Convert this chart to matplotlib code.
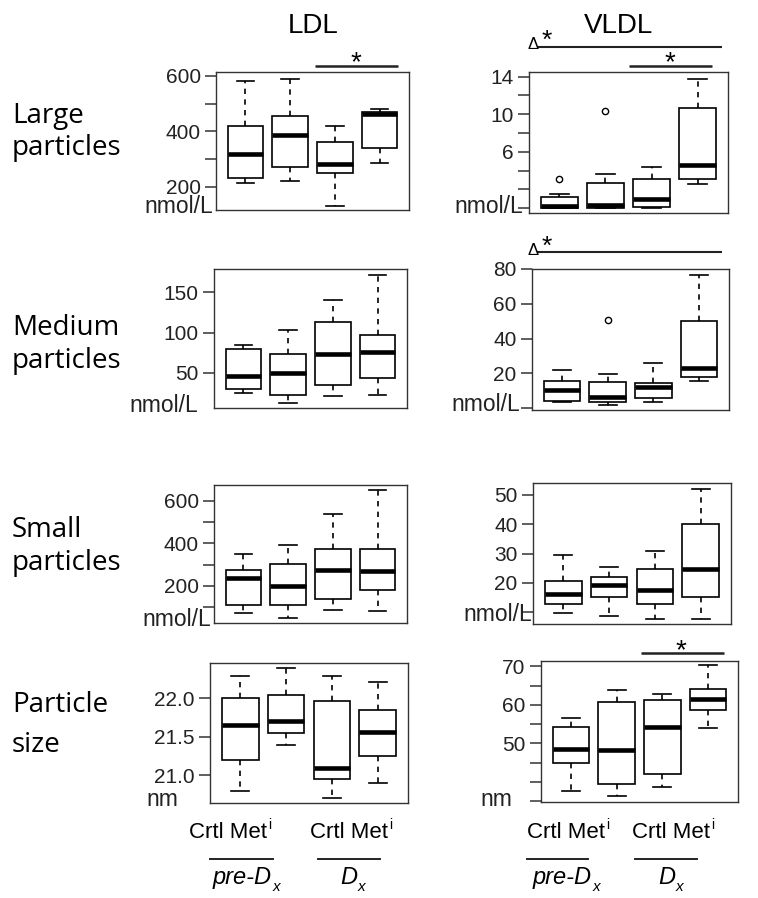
import matplotlib
matplotlib.use("Agg")
import matplotlib.pyplot as plt

# ── CANVAS ────────────────────────────────────────────────────────────────────
W, H = 758, 898
TICK_FONT = "Liberation Sans"
LABEL_FONT = "Open Sans"

# ── DATA: (whisker low, Q1, median, Q3, whisker high) per group ───────────────
# groups: Crtl pre-Dx, Met pre-Dx, Crtl Dx, Met Dx
ldl_large = [(213, 232, 319, 420, 583), (222, 273, 387, 456, 590),
             (132, 249, 283, 361, 420), (285, 340, 462, 469, 481)]
ldl_large_out = [[], [], [], []]
vldl_large = [(0.0, 0.05, 0.25, 1.2, 1.5), (0.0, 0.05, 0.3, 2.7, 3.6),
              (0.0, 0.1, 1.0, 3.1, 4.4), (2.6, 3.1, 4.6, 10.7, 13.8)]
vldl_large_out = [[3.1], [10.4], [], []]

ldl_medium = [(25, 30, 46, 80, 85), (13, 23, 50, 74, 103),
              (21, 35, 73, 113, 140), (23, 44, 76, 97, 172)]
ldl_medium_out = [[], [], [], []]
vldl_medium = [(3.4, 4.0, 10.5, 15.8, 21.9), (2.0, 3.4, 6.6, 15.2, 19.6),
               (3.8, 5.7, 12.0, 14.3, 26.0), (15.8, 18.0, 23.4, 49.9, 76.7)]
vldl_medium_out = [[], [50.5], [], []]

ldl_small = [(75, 112, 235, 277, 352), (51, 109, 200, 304, 392),
             (86, 139, 274, 373, 536), (82, 180, 271, 373, 650)]
ldl_small_out = [[], [], [], []]
vldl_small = [(9.7, 12.9, 16.3, 20.7, 29.6), (8.9, 15.2, 19.2, 22.0, 25.4),
              (7.8, 12.9, 17.5, 24.8, 30.8), (7.8, 15.3, 24.8, 40.0, 52.0)]
vldl_small_out = [[], [], [], []]

ldl_size = [(20.8, 21.2, 21.65, 22.0, 22.29), (21.4, 21.55, 21.71, 22.04, 22.4),
            (20.7, 20.95, 21.1, 21.96, 22.29), (20.9, 21.25, 21.56, 21.85, 22.21)]
ldl_size_out = [[], [], [], []]
vldl_size = [(37.6, 44.8, 48.5, 54.3, 56.5), (36.3, 39.4, 48.2, 60.8, 64.0),
             (38.7, 42.0, 54.3, 61.2, 62.9), (53.9, 58.8, 61.5, 64.2, 70.3)]
vldl_size_out = [[], [], [], []]

# ── AXIS TICKS ────────────────────────────────────────────────────────────────
ldl_large_ticks = [200, 300, 400, 500, 600]
ldl_large_labels = ["200", "", "400", "", "600"]
vldl_large_ticks = [0, 2, 4, 6, 8, 10, 12, 14]
vldl_large_labels = ["", "", "", "6", "", "10", "", "14"]
ldl_medium_ticks = [50, 100, 150]
ldl_medium_labels = ["50", "100", "150"]
vldl_medium_ticks = [0, 20, 40, 60, 80]
vldl_medium_labels = ["", "20", "40", "60", "80"]
ldl_small_ticks = [100, 200, 300, 400, 500, 600]
ldl_small_labels = ["", "200", "", "400", "", "600"]
vldl_small_ticks = [10, 20, 30, 40, 50]
vldl_small_labels = ["", "20", "30", "40", "50"]
ldl_size_ticks = [21.0, 21.5, 22.0]
ldl_size_labels = ["21.0", "21.5", "22.0"]
vldl_size_ticks = [35, 40, 45, 50, 55, 60, 65, 70]
vldl_size_labels = ["", "", "", "50", "", "60", "", "70"]

row_titles = [("Large", "particles"), ("Medium", "particles"),
              ("Small", "particles"), ("Particle", "size")]
col_titles = ["LDL", "VLDL"]
group_top = ["Crtl Met", "Crtl Met", "Crtl Met", "Crtl Met"]
group_bottom = ["pre-D", "D", "pre-D", "D"]


def px_rect(left, top, right, bottom):
    """Pixel box -> figure fraction rect."""
    return [left / W, 1 - bottom / H, (right - left) / W, (bottom - top) / H]


def draw_panel(fig, rect, stats, outliers, ylim, ticks, labels):
    ax = fig.add_axes(px_rect(*rect))
    bx = []
    for (lo, q1, med, q3, hi), fl in zip(stats, outliers):
        bx.append(dict(whislo=lo, q1=q1, med=med, q3=q3, whishi=hi, fliers=fl))
    ax.bxp(bx, positions=[1, 2, 3, 4], widths=0.8, capwidths=0.4,
           patch_artist=True, showfliers=True,
           boxprops=dict(facecolor="white", edgecolor="black", linewidth=1.2),
           medianprops=dict(color="black", linewidth=3.3, solid_capstyle="butt"),
           whiskerprops=dict(color="black", linewidth=1.2, linestyle=(0, (3.2, 3.2))),
           capprops=dict(color="black", linewidth=1.2),
           flierprops=dict(marker="o", markersize=4.5, markerfacecolor="white",
                           markeredgecolor="black", markeredgewidth=1.0))
    ax.set_xlim(0.34, 4.66)
    ax.set_ylim(*ylim)
    ax.set_xticks([])
    ax.set_yticks(ticks)
    ax.set_yticklabels(labels, fontsize=15, family=TICK_FONT, color="#222222")
    ax.tick_params(axis="y", length=8, width=1.1, pad=3, color="#333333")
    for sp in ax.spines.values():
        sp.set_linewidth(1.0)
        sp.set_color("#333333")
    return ax


fig = plt.figure(figsize=(W / 100, H / 100), dpi=100)

panels = [
    ((216, 72, 409, 210), ldl_large, ldl_large_out, (117, 614), ldl_large_ticks, ldl_large_labels),
    ((529, 72, 728, 213), vldl_large, vldl_large_out, (-0.5, 14.5), vldl_large_ticks, vldl_large_labels),
    ((214, 269, 407, 408), ldl_medium, ldl_medium_out, (6.3, 179), ldl_medium_ticks, ldl_medium_labels),
    ((532, 269, 729, 410), vldl_medium, vldl_medium_out, (-1, 79.6), vldl_medium_ticks, vldl_medium_labels),
    ((214, 485, 407, 623), ldl_small, ldl_small_out, (26, 674), ldl_small_ticks, ldl_small_labels),
    ((533, 483, 731, 624), vldl_small, vldl_small_out, (6.1, 53.9), vldl_small_ticks, vldl_small_labels),
    ((210, 663, 408, 803), ldl_size, ldl_size_out, (20.64, 22.46), ldl_size_ticks, ldl_size_labels),
    ((541, 661, 738, 802), vldl_size, vldl_size_out, (34.8, 71.4), vldl_size_ticks, vldl_size_labels),
]
for p in panels:
    draw_panel(fig, *p)

# overlay in pixel coordinates for all annotations
ov = fig.add_axes([0, 0, 1, 1], zorder=10)
ov.set_xlim(0, W)
ov.set_ylim(H, 0)
ov.axis("off")
ov.patch.set_alpha(0)

# column titles
ov.text(313, 33, col_titles[0], fontsize=20, family=TICK_FONT, ha="center", va="baseline")
ov.text(618, 33, col_titles[1], fontsize=20, family=TICK_FONT, ha="center", va="baseline")

# row titles
row_baselines = [(123, 155), (335, 368), (537, 570), (712, 752)]
for (l1, l2), (b1, b2) in zip(row_titles, row_baselines):
    ov.text(12, b1, l1, fontsize=20, family=LABEL_FONT, ha="left", va="baseline")
    ov.text(12, b2, l2, fontsize=20, family=LABEL_FONT, ha="left", va="baseline")

# unit labels
units = [("nmol/L", 213, 213), ("nmol/L", 198, 412), ("nmol/L", 211, 626),
         ("nmol/L", 523, 213), ("nmol/L", 520, 411), ("nmol/L", 532, 621),
         ("nm", 178, 806), ("nm", 512, 806)]
for txt, x, y in units:
    ov.text(x, y, txt, fontsize=16.5, family=TICK_FONT, ha="right", va="baseline",
            color="#222222")


# significance marks
def sig_bar(x0, x1, y, lw=1.8):
    ov.plot([x0, x1], [y, y], color="#222222", linewidth=lw, solid_capstyle="butt")


def star(x, y, size=20):
    ov.text(x, y, "*", fontsize=size, family=TICK_FONT, ha="center", va="baseline")


sig_bar(315, 398, 66)
star(356, 70)
sig_bar(629, 712, 66)
star(670, 70)
sig_bar(641, 724, 653)
star(681, 658)

for y_line in (46.7, 252.3):
    sig_bar(537, 722, y_line, lw=1.5)
    ov.text(533, y_line + 2.5, "\u0394", fontsize=12, family=TICK_FONT,
            ha="center", va="baseline")
    star(547, y_line + 1.5, size=19)

# group labels at the bottom
crtl_right = [267, 388, 605, 710]
line_spans = [(210, 273), (318, 380), (527, 588), (635, 697)]
dx_right = [272, 357, 592, 675]
for top, bot, xr, (l0, l1), dr in zip(group_top, group_bottom, crtl_right,
                                      line_spans, dx_right):
    ov.text(xr, 838, top, fontsize=16, family=TICK_FONT, ha="right", va="baseline")
    ov.text(xr + 1.5, 829, "i", fontsize=10, family=TICK_FONT, ha="left", va="baseline")
    ov.plot([l0, l1], [859, 859], color="#222222", linewidth=1.4)
    ov.text(dr, 884, bot, fontsize=17, family=TICK_FONT, style="italic",
            ha="right", va="baseline")
    ov.text(dr + 1, 891, "x", fontsize=11, family=TICK_FONT, style="italic",
            ha="left", va="baseline")

fig.savefig("out.png", dpi=100)
